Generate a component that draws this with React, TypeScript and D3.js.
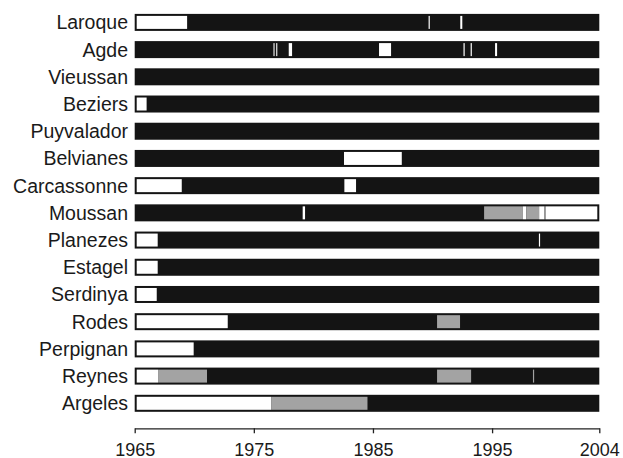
import React, { useEffect, useRef } from "react";
import * as d3 from "d3";

const stations = [
  "Laroque", "Agde", "Vieussan", "Beziers", "Puyvalador", "Belvianes", "Carcassonne",
  "Moussan", "Planezes", "Estagel", "Serdinya", "Rodes", "Perpignan", "Reynes", "Argeles",
];

const startYear = 1965;
const endYear = 2004;
const tickYears = [1965, 1975, 1985, 1995, 2004];

// gaps: [station, start, end, kind] — "w" = missing (white), "g" = partial (grey)
const gaps: [string, number, number, string][] = [
  ["Laroque", 1965, 1969.4, "w"],
  ["Laroque", 1989.67, 1989.77, "w"],
  ["Laroque", 1992.33, 1992.5, "w"],
  ["Agde", 1976.65, 1976.74, "w"],
  ["Agde", 1976.88, 1976.97, "w"],
  ["Agde", 1977.93, 1978.21, "w"],
  ["Agde", 1985.51, 1986.52, "w"],
  ["Agde", 1992.6, 1992.7, "w"],
  ["Agde", 1993.2, 1993.3, "w"],
  ["Agde", 1995.25, 1995.42, "w"],
  ["Beziers", 1965, 1966.0, "w"],
  ["Belvianes", 1982.57, 1987.42, "w"],
  ["Carcassonne", 1965, 1968.95, "w"],
  ["Carcassonne", 1982.6, 1983.58, "w"],
  ["Moussan", 1979.1, 1979.3, "w"],
  ["Moussan", 1994.33, 1997.58, "g"],
  ["Moussan", 1997.58, 1997.86, "w"],
  ["Moussan", 1997.86, 1998.95, "g"],
  ["Moussan", 1998.95, 1999.4, "w"],
  ["Moussan", 1999.4, 1999.5, "g"],
  ["Moussan", 1999.5, 2004, "w"],
  ["Planezes", 1965, 1966.93, "w"],
  ["Planezes", 1998.93, 1999.03, "w"],
  ["Estagel", 1965, 1966.93, "w"],
  ["Serdinya", 1965, 1966.85, "w"],
  ["Rodes", 1965, 1972.81, "w"],
  ["Rodes", 1990.38, 1992.31, "g"],
  ["Perpignan", 1965, 1969.95, "w"],
  ["Reynes", 1965, 1966.96, "w"],
  ["Reynes", 1966.96, 1971.07, "g"],
  ["Reynes", 1990.38, 1993.24, "g"],
  ["Reynes", 1998.43, 1998.53, "g"],
  ["Argeles", 1965, 1976.45, "w"],
  ["Argeles", 1976.45, 1984.54, "g"],
];

const W = 623;
const H = 458;
const barH = 17;
const inset = 2;
const colors: Record<string, string> = { w: "#ffffff", g: "#a3a3a3" };

export default function App() {
  const axisRef = useRef<SVGGElement>(null);
  const x = d3.scaleLinear().domain([startYear, endYear]).range([134.7, 599.3]);
  const y = d3.scalePoint<string>().domain(stations).range([22.4, 403.3]);

  useEffect(() => {
    if (!axisRef.current) return;
    const g = d3.select(axisRef.current);
    g.selectAll("*").remove();
    g.call(
      d3.axisBottom(x).tickValues(tickYears).tickFormat(d3.format("d")).tickSize(5).tickSizeOuter(0).tickPadding(10)
    );
    g.select(".domain").attr("stroke", "#222").attr("stroke-width", 1.3);
    g.selectAll(".tick line").attr("stroke", "#222").attr("stroke-width", 1.3);
    g.selectAll(".tick text")
      .attr("fill", "#1a1a1a")
      .attr("font-size", 18)
      .attr("font-family", "'Liberation Sans', Arial, sans-serif");
  }, []);

  const x0 = x(startYear);
  const x1 = x(endYear);

  return (
    <svg
      width={W}
      height={H}
      style={{ position: "absolute", left: 0, top: 0, background: "#fff" }}
    >
      {stations.map((s) => {
        const cy = y(s)!;
        const top = cy - barH / 2;
        return (
          <g key={s}>
            <text
              x={128}
              y={cy}
              textAnchor="end"
              dominantBaseline="central"
              fontSize={19.5}
              fontFamily="'Liberation Sans', Arial, sans-serif"
              fill="#1a1a1a"
            >
              {s}
            </text>
            <rect x={x0} y={top} width={x1 - x0} height={barH} fill="#141414" />
            {gaps
              .filter((g) => g[0] === s)
              .map((g, i) => {
                const a = Math.max(x(g[1]), x0 + inset);
                const b = Math.min(x(g[2]), x1 - inset);
                return (
                  <rect
                    key={i}
                    x={a}
                    y={top + inset}
                    width={Math.max(1, b - a)}
                    height={barH - 2 * inset}
                    fill={colors[g[3]]}
                  />
                );
              })}
          </g>
        );
      })}
      <g ref={axisRef} transform={`translate(0,428.3)`} />
    </svg>
  );
}
